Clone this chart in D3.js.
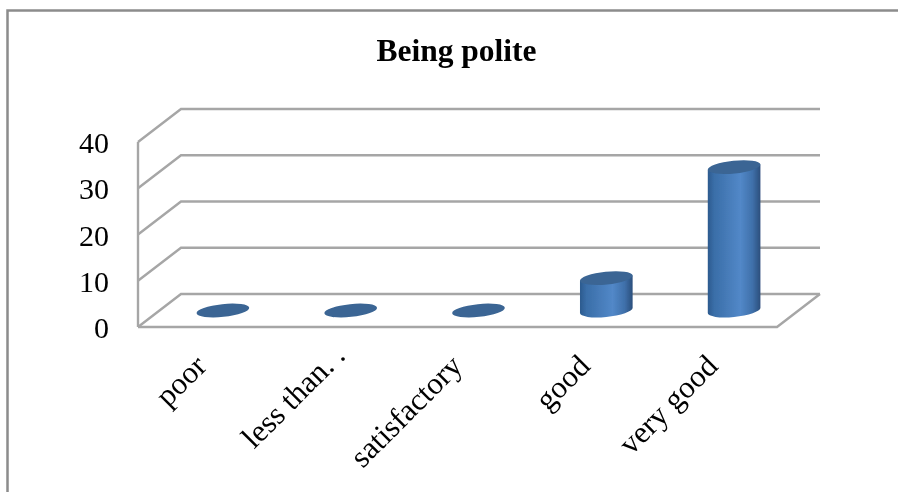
<!DOCTYPE html>
<html><head><meta charset="utf-8">
<script src="https://cdn.jsdelivr.net/npm/d3@7"></script>
<style>html,body{margin:0;padding:0;background:#fff}svg{display:block}text{font-family:"Liberation Serif",serif;fill:#000}</style>
</head><body><svg id="c" width="898" height="492"></svg>
<script>
const categories = ["poor","less than. .","satisfactory","good","very good"];
const values = [0,0,0,7,31];
const yTicks = [0,10,20,30,40];
const title = "Being polite";

const svg = d3.select("#c");
const W = 898, H = 492;
const x = d3.scaleBand().domain(categories).range([138,777]);
const y = d3.scaleLinear().domain([0,40]).range([327,142]);
const depth = {dx:43, dy:-33};
const grey = "#a6a6a6";

const defs = svg.append("defs");
const grad = defs.append("linearGradient").attr("id","cyl");
[[0,"#2c5a8e"],[.12,"#3a6ea8"],[.62,"#5288c8"],[.85,"#3f70aa"],[1,"#2b4f7c"]].forEach(([o,c])=>
  grad.append("stop").attr("offset",o).attr("stop-color",c));
defs.append("filter").attr("id","soft").append("feGaussianBlur").attr("stdDeviation",0.55);

// frame
svg.append("path").attr("d",`M7.5,${H}V10.5H${W}`).attr("fill","none").attr("stroke","#8c8c8c").attr("stroke-width",2.5);

const root = svg.append("g").attr("filter","url(#soft)");

// title
root.append("text").attr("x",456.5).attr("y",61).attr("text-anchor","middle")
  .attr("font-size",31.5).attr("font-weight","bold").text(title);

// walls
const [x0,x1] = x.range();
const walls = root.append("g").attr("fill","none").attr("stroke",grey).attr("stroke-width",2.4);
yTicks.forEach(t=>{
  walls.append("path").attr("d",`M${x0},${y(t)}L${x0+depth.dx},${y(t)+depth.dy}H${x1+depth.dx}`);
});
walls.append("path").attr("d",`M${x0},${y(0)}V${y(40)}`);
walls.append("path").attr("d",`M${x0},${y(0)}H${x1}L${x1+depth.dx},${y(0)+depth.dy}`);

// y tick labels
root.selectAll(".yt").data(yTicks).join("text").attr("class","yt")
  .attr("x",109).attr("y",d=>y(d)+11).attr("text-anchor","end").attr("font-size",30).text(d=>d);

// cylinders
const rx = x.bandwidth()*0.207, ry = 6.4, rot = -6;
const th = rot*Math.PI/180;
const t0 = Math.atan2(-ry*Math.sin(th), rx*Math.cos(th));
const ex = rx*Math.cos(t0)*Math.cos(th) - ry*Math.sin(t0)*Math.sin(th);
const ey = rx*Math.cos(t0)*Math.sin(th) + ry*Math.sin(t0)*Math.cos(th);
const bars = root.selectAll(".bar").data(categories.map((c,i)=>({c,v:values[i]}))).join("g").attr("class","bar")
  .attr("transform",d=>`translate(${x(d.c)+x.bandwidth()/2+depth.dx/2-0.5},${depth.dy/2})`);
bars.filter(d=>d.v>0).append("path").attr("fill","url(#cyl)").attr("d",d=>{
  const b=y(0), t=y(d.v);
  return `M${-ex},${t-ey}L${-ex},${b-ey}A${rx},${ry} ${rot} 0 0 ${ex},${b+ey}L${ex},${t+ey}Z`;
});
bars.append("ellipse").attr("rx",rx).attr("ry",ry).attr("cy",d=>y(d.v))
  .attr("transform",d=>`rotate(${rot} 0 ${y(d.v)})`).attr("fill","#3a6594");

// category labels
root.selectAll(".xl").data(categories).join("text").attr("class","xl")
  .attr("transform",d=>`translate(${x(d)+x.bandwidth()/2-9},352.5) rotate(-45)`)
  .attr("text-anchor","end").attr("dx",(d,i)=>i===1?15:0).attr("dy","0.7em").attr("font-size",31).text(d=>d);
</script></body></html>
